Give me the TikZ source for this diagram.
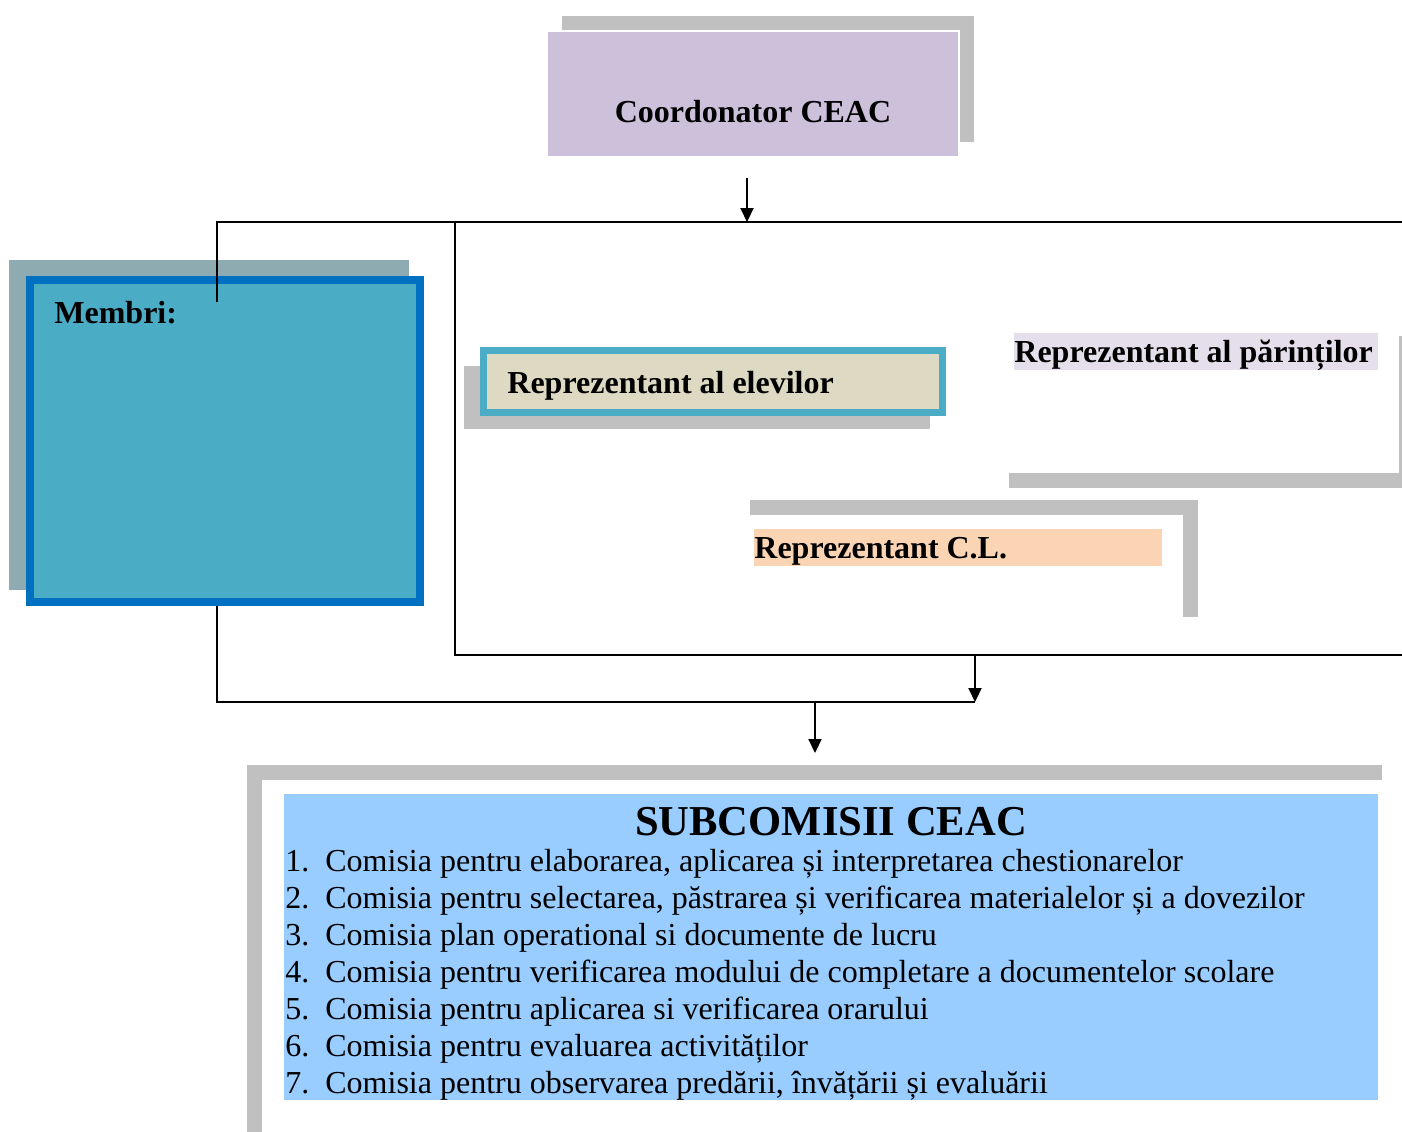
\documentclass[tikz,border=0pt]{standalone}
\usepackage{fontspec}
\setmainfont{Liberation Serif}
\usetikzlibrary{arrows.meta,shadows,positioning}

\definecolor{umbragri}{HTML}{C0C0C0}
\definecolor{coordlila}{HTML}{CCC0DA}
\definecolor{membriumbra}{HTML}{8FABB2}
\definecolor{membrifond}{HTML}{4BACC6}
\definecolor{membrichenar}{HTML}{0070C0}
\definecolor{elevibej}{HTML}{DDD9C3}
\definecolor{parintililac}{HTML}{E5DFEC}
\definecolor{clpiersica}{HTML}{FBD4B4}
\definecolor{subalbastru}{HTML}{99CCFF}

\tikzset{
  caseta/.style={rectangle, inner sep=0pt, outer sep=0pt},
  umbra/.style 2 args={general shadow={fill=umbragri, opacity=1,
      shadow xshift=#1, shadow yshift=#2}},
  eticheta/.style={font=\bfseries\fontsize{16}{18.5}\selectfont, inner sep=0pt},
  evidentiere/.style={fill=#1, text height=14.5pt, text depth=4pt, inner sep=0pt},
  lista/.style={font=\fontsize{16}{18.5}\selectfont, inner sep=0pt},
  legatura/.style={line width=1pt},
  sageata/.style={line width=1pt, -{Triangle[length=7pt,width=6.5pt]}}
}

\begin{document}
\begin{tikzpicture}[x=0.5pt,y=-0.5pt]
\useasboundingbox (0,0) rectangle (1402,1131);

% cutii
\node[caseta, umbra={7.5pt}{7.5pt}, fill=coordlila, draw=white, line width=1pt,
      minimum width=206pt, minimum height=63pt] (coord) at (753,94) {};
\node[eticheta] (coordtxt) at (753,112) {Coordonator CEAC};

\node[caseta, general shadow={fill=membriumbra, opacity=1, shadow xshift=-7.75pt, shadow yshift=8pt, shadow scale=1.025},
      fill=membrifond, draw=membrichenar, line width=4pt,
      minimum width=195pt, minimum height=161pt] (membri) at (225,441) {};
\node[eticheta, anchor=base west] (membritxt) at (54,323) {Membri:};

\node[caseta, general shadow={fill=umbragri, opacity=1, shadow xshift=-8pt, shadow yshift=-8pt, shadow scale=1.015},
      fill=elevibej, draw=membrifond, line width=3.5pt,
      minimum width=229.5pt, minimum height=31pt] (elevi) at (713,381.5) {};
\node[eticheta, anchor=base west] (elevitxt) at (507,393) {Reprezentant al elevilor};

\node[caseta, umbra={7.5pt}{-7.5pt}, fill=white,
      minimum width=202.5pt, minimum height=76pt] (parinti) at (1196.5,397) {};
\node[eticheta, evidentiere=parintililac, anchor=base west]
      (parintitxt) at (1014,362) {\makebox[182pt][l]{Reprezentant al părinților}};

\node[caseta, umbra={7.5pt}{7.5pt}, fill=white,
      minimum width=224pt, minimum height=58.5pt] (cl) at (959,573.5) {};
\node[eticheta, evidentiere=clpiersica, anchor=base west]
      (cltxt) at (754,558) {\makebox[204pt][l]{Reprezentant C.L.}};

\node[caseta, umbra={-7.5pt}{7.5pt}, fill=white,
      minimum width=567.5pt, minimum height=190pt] (subcadru) at (829.5,970) {};
\node[caseta, fill=subalbastru, minimum width=547pt, minimum height=153pt] (sub) at (831,947) {};
\node[font=\bfseries\fontsize{21.3}{24}\selectfont, inner sep=0pt, anchor=base]
      (subtitlu) at (831,835) {SUBCOMISII CEAC};
\foreach \n/\t in {1/{Comisia pentru elaborarea, aplicarea și interpretarea chestionarelor},
                   2/{Comisia pentru selectarea, păstrarea și verificarea materialelor și a dovezilor},
                   3/{Comisia plan operational si documente de lucru},
                   4/{Comisia pentru verificarea modului de completare a documentelor scolare},
                   5/{Comisia pentru aplicarea si verificarea orarului},
                   6/{Comisia pentru evaluarea activităților},
                   7/{Comisia pentru observarea predării, învățării și evaluării}}
   \node[lista, anchor=base west] (com\n) at (285,{871+37*(\n-1)}) {\makebox[20pt][l]{\n.}\t};

% puncte de legatura
\coordinate (coordjos) at (747,178);
\coordinate (nod1) at (747,222);
\coordinate (stanga) at (217,222);
\coordinate (capat) at (798,222);
\coordinate (membrisus) at (217,302);
\coordinate (cadrusus) at (1402,222);
\coordinate (cadru1) at (455,222);
\coordinate (cadru2) at (455,655);
\coordinate (cadrujos) at (1402,655);
\coordinate (membrijos) at (217,606);
\coordinate (nod2) at (217,702);
\coordinate (nod3) at (975,702);
\coordinate (nod4) at (975,655);
\coordinate (nod5) at (815,702);
\coordinate (subsus) at (815,753);

\draw[legatura] (cadrusus) -- (cadru1) -- (cadru2) -- (cadrujos);
\draw[legatura] (membrisus) -- (stanga) -- (capat);
\draw[sageata] (coordjos) -- (nod1);
\draw[legatura] (membrijos) -- (nod2) -- (nod3);
\draw[sageata] (nod4) -- (nod3);
\draw[sageata] (nod5) -- (subsus);

\end{tikzpicture}
\end{document}
